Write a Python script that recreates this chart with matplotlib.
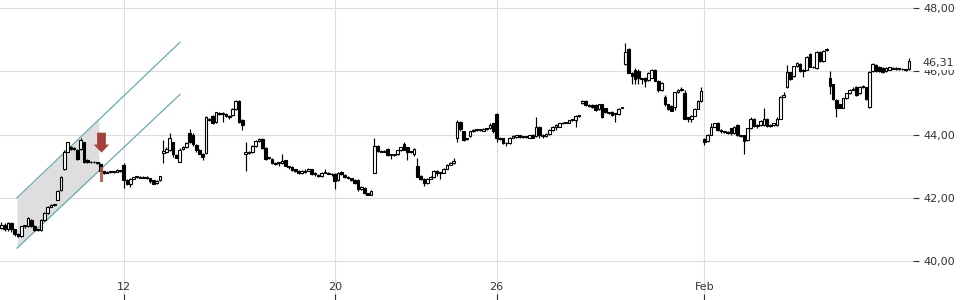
import numpy as np
import matplotlib
matplotlib.use("Agg")
import matplotlib.pyplot as plt
from matplotlib.ticker import FuncFormatter

# ---- data (hourly OHLC candles) ----
opens = [
 41.05,41.15,41.00,41.20,41.00,40.85,40.78,41.10,41.10,41.30,
 41.12,40.98,40.98,41.30,41.52,41.72,41.76,41.94,42.25,42.90,
 43.46,43.60,43.55,43.50,43.55,43.75,43.20,43.12,43.13,43.12,
 43.08,42.85,42.80,42.82,42.82,42.83,42.85,43.05,42.57,42.45,
 42.60,42.65,42.67,42.64,42.66,42.62,42.55,42.48,42.55,43.43,
 43.45,43.50,43.75,43.35,43.14,43.55,43.60,44.06,44.00,43.68,
 43.52,43.40,43.42,44.50,44.60,44.40,44.68,44.65,44.65,44.60,
 44.62,44.80,45.05,44.45,43.40,43.42,43.45,43.65,43.80,43.86,
 43.58,43.25,43.24,43.10,43.10,43.10,43.18,43.00,42.98,42.90,
 42.86,42.78,42.82,42.86,42.90,42.80,42.72,42.68,42.80,42.80,
 42.76,42.76,42.55,42.82,42.72,42.66,42.62,42.57,42.57,42.27,
 42.32,42.15,42.10,42.80,43.65,43.48,43.48,43.55,43.36,43.36,
 43.37,43.50,43.70,43.60,43.45,43.40,43.00,42.70,42.60,42.48,
 42.60,42.65,42.85,42.80,42.80,42.92,43.05,43.10,43.90,44.41,
 44.10,43.85,43.95,44.10,44.14,44.14,44.12,44.16,44.20,44.35,
 44.65,43.90,43.88,43.72,43.72,43.90,43.92,43.97,43.93,43.92,
 43.90,44.00,43.95,44.25,44.00,43.95,44.02,44.15,44.24,44.25,
 44.35,44.37,44.38,44.45,44.45,44.60,45.00,45.05,44.92,44.93,
 44.92,44.80,44.95,44.83,44.70,44.72,44.65,44.65,44.85,46.22,
 46.70,45.95,46.05,46.00,45.78,45.80,45.72,45.80,46.05,45.70,
 45.40,45.20,44.95,44.90,44.86,45.33,45.40,45.30,44.55,44.50,
 44.60,44.82,45.05,43.87,43.80,44.00,44.25,44.38,44.15,44.10,
 44.08,44.20,44.05,44.30,43.98,43.98,43.82,44.20,44.50,44.28,
 44.30,44.30,44.50,44.28,44.30,44.30,44.50,45.20,45.49,45.97,
 45.84,46.16,46.22,46.00,46.05,46.55,46.15,46.10,46.62,46.32,
 46.68,45.78,45.59,45.10,44.95,44.85,45.15,45.30,45.42,45.50,
 45.30,45.50,45.49,44.86,46.00,46.20,46.15,46.10,46.00,46.05,
 46.10,46.08,46.08,46.07,46.05,46.06,
]
highs = [
 41.22,41.20,41.24,41.22,41.02,40.88,41.12,41.14,41.38,41.32,
 41.15,41.00,41.32,41.55,41.75,41.79,41.82,42.24,42.70,43.50,
 43.78,43.65,43.62,43.55,43.90,43.78,43.22,43.15,43.16,43.14,
 43.10,42.86,42.84,42.84,42.85,42.90,42.88,43.10,42.60,42.62,
 42.67,42.70,42.69,42.70,42.68,42.64,42.57,42.55,42.70,43.84,
 43.60,44.05,43.78,43.38,43.58,43.63,43.75,44.19,44.05,43.70,
 43.55,43.42,44.60,44.52,44.62,44.72,44.70,44.70,44.67,44.62,
 44.85,45.10,45.10,44.48,43.75,43.48,43.68,43.83,43.90,43.88,
 43.60,43.30,43.26,43.12,43.13,43.40,43.20,43.02,43.00,42.92,
 42.88,42.88,42.90,42.95,42.92,42.82,42.75,42.82,42.90,42.82,
 42.78,42.78,42.83,42.84,42.74,42.68,42.64,42.58,42.59,42.36,
 42.34,42.16,42.25,43.90,43.67,43.50,43.50,43.57,43.38,43.40,
 43.52,43.62,43.75,43.62,43.48,43.58,43.27,42.72,42.62,42.62,
 42.68,42.88,42.87,42.82,42.94,43.07,43.12,43.27,44.45,44.43,
 44.12,43.90,44.12,44.16,44.18,44.17,44.20,44.22,44.35,44.38,
 44.67,43.92,43.90,43.75,43.92,43.97,43.99,43.99,43.95,43.95,
 43.99,44.02,44.55,44.27,44.02,44.04,44.17,44.26,44.33,44.37,
 44.39,44.40,44.47,44.50,44.63,44.62,45.10,45.08,44.95,44.95,
 44.95,44.98,44.97,44.85,44.72,44.74,44.68,44.83,44.87,46.90,
 46.72,45.97,46.10,46.08,45.80,45.82,45.98,46.08,46.08,45.72,
 45.65,45.25,44.97,44.92,45.35,45.45,45.50,45.42,44.57,44.62,
 44.85,45.08,45.49,43.90,44.02,44.35,44.38,44.40,44.17,44.12,
 44.10,44.22,44.28,44.32,44.00,44.00,44.22,44.54,44.52,44.33,
 44.45,44.85,44.52,44.32,44.37,44.55,45.22,45.35,46.20,45.99,
 46.18,46.30,46.25,46.07,46.48,46.57,46.17,46.65,46.65,46.67,
 46.72,46.00,45.61,45.12,44.97,45.17,45.32,45.45,45.50,45.52,
 45.55,45.58,45.51,46.00,46.25,46.22,46.17,46.12,46.12,46.14,
 46.12,46.12,46.10,46.10,46.08,46.42,
]
lows = [
 41.00,40.95,40.95,40.92,40.80,40.75,40.76,41.06,41.08,41.08,
 40.95,40.96,40.96,41.28,41.50,41.70,41.73,41.92,42.20,42.88,
 43.44,43.50,43.50,43.20,43.50,43.10,43.10,43.10,43.10,43.08,
 42.83,42.76,42.79,42.80,42.80,42.82,42.83,42.30,42.40,42.35,
 42.58,42.62,42.62,42.62,42.60,42.48,42.43,42.45,42.53,43.11,
 43.42,43.48,43.30,43.25,43.12,43.52,43.58,43.72,43.65,43.45,
 43.38,43.20,43.40,44.44,44.32,44.38,44.62,44.41,44.55,44.50,
 44.60,44.78,44.38,44.13,42.85,43.40,43.43,43.62,43.78,43.55,
 43.20,43.24,43.08,43.05,43.02,43.08,43.00,42.90,42.85,42.83,
 42.75,42.76,42.80,42.84,42.73,42.70,42.65,42.66,42.78,42.74,
 42.70,42.28,42.52,42.72,42.62,42.60,42.53,42.44,42.22,42.25,
 42.13,42.08,42.08,42.78,43.45,43.44,43.44,43.33,43.22,43.33,
 43.35,43.48,43.50,43.20,43.43,43.33,42.65,42.55,42.38,42.45,
 42.58,42.63,42.70,42.60,42.78,42.90,43.04,43.08,43.75,44.10,
 43.80,43.83,43.93,44.08,44.12,44.12,44.10,44.14,44.18,44.05,
 43.78,43.82,43.70,43.65,43.70,43.88,43.90,43.90,43.90,43.90,
 43.88,43.88,43.93,43.90,43.90,43.93,44.00,44.12,44.15,44.23,
 44.33,44.35,44.36,44.42,44.25,44.56,44.98,44.90,44.88,44.85,
 44.75,44.78,44.52,44.68,44.65,44.60,44.41,44.63,44.83,46.20,
 45.93,45.60,45.60,45.60,45.60,45.50,45.70,45.78,45.68,45.35,
 45.38,44.90,44.78,44.73,44.78,45.30,45.38,44.48,44.40,44.40,
 44.58,44.80,45.03,43.68,43.78,43.98,44.23,44.12,44.05,44.05,
 44.03,44.00,44.03,43.95,43.93,43.37,43.80,44.18,44.25,44.20,
 44.28,44.28,44.25,44.25,44.28,44.28,44.48,45.18,45.47,45.72,
 45.82,46.14,45.98,45.82,46.03,46.13,46.10,46.08,46.30,46.30,
 46.65,45.27,45.09,44.57,44.83,44.83,45.13,45.28,45.40,45.22,
 45.28,45.48,45.08,44.84,45.98,45.98,45.98,45.96,45.98,46.03,
 46.06,46.05,46.04,46.04,46.02,46.04,
]
closes = [
 41.15,41.00,41.20,41.00,40.85,40.78,41.10,41.10,41.35,41.12,
 40.98,40.98,41.30,41.52,41.72,41.76,41.80,42.22,42.67,43.46,
 43.75,43.55,43.58,43.22,43.84,43.12,43.12,43.13,43.12,43.10,
 42.85,42.78,42.82,42.82,42.83,42.88,42.85,42.57,42.45,42.60,
 42.65,42.67,42.64,42.66,42.62,42.52,42.45,42.52,42.68,43.49,
 43.55,43.90,43.37,43.27,43.52,43.60,43.72,43.75,43.70,43.52,
 43.40,43.30,44.57,44.47,44.38,44.70,44.65,44.66,44.58,44.55,
 44.80,45.05,44.40,44.30,43.46,43.45,43.65,43.80,43.86,43.58,
 43.24,43.27,43.10,43.08,43.10,43.15,43.00,42.98,42.88,42.86,
 42.78,42.86,42.86,42.92,42.75,42.74,42.70,42.80,42.82,42.76,
 42.74,42.52,42.80,42.75,42.66,42.62,42.55,42.46,42.29,42.34,
 42.15,42.10,42.22,43.65,43.48,43.46,43.46,43.35,43.35,43.37,
 43.50,43.60,43.52,43.45,43.46,43.55,42.67,42.60,42.48,42.60,
 42.66,42.85,42.80,42.78,42.92,43.05,43.10,43.15,44.41,44.16,
 43.84,43.88,44.10,44.14,44.16,44.15,44.18,44.20,44.30,44.10,
 43.90,43.85,43.72,43.72,43.90,43.95,43.97,43.92,43.92,43.93,
 43.97,43.90,44.25,44.00,43.95,44.02,44.15,44.24,44.30,44.35,
 44.37,44.38,44.45,44.48,44.60,44.58,45.07,44.92,44.90,44.88,
 44.78,44.95,44.55,44.70,44.68,44.63,44.65,44.80,44.85,46.60,
 45.95,45.85,45.75,45.80,45.75,45.70,45.95,46.05,45.70,45.40,
 45.62,44.95,44.80,44.75,45.33,45.40,45.45,44.50,44.50,44.60,
 44.82,45.05,45.38,43.78,44.00,44.25,44.35,44.15,44.10,44.07,
 44.06,44.05,44.25,43.98,43.95,43.80,44.20,44.50,44.28,44.30,
 44.42,44.50,44.28,44.30,44.35,44.50,45.20,45.25,45.97,45.75,
 46.16,46.27,46.00,46.05,46.45,46.15,46.12,46.62,46.32,46.65,
 46.70,45.52,45.11,44.85,44.85,45.15,45.30,45.42,45.43,45.25,
 45.50,45.52,45.11,45.97,46.22,46.00,46.00,45.98,46.10,46.12,
 46.08,46.10,46.07,46.06,46.04,46.31,
]

tick_positions = [37, 101, 150, 213]
tick_labels = ["12", "20", "26", "Feb"]
y_ticks = [40, 42, 44, 46, 48]
last_price = closes[-1]

# trend channel (bar index, price)
channel_x = [4.7, 54.1]
channel_upper = [42.0, 46.92]
channel_lower = [40.41, 45.27]
channel_fill_end = 29.5
signal_x = 30.3
arrow_top, arrow_tip = 44.06, 43.43
signal_bar = [42.50, 42.97]

# ---- plot ----
o = np.array(opens); h = np.array(highs); l = np.array(lows); c = np.array(closes)
x = np.arange(len(c))
up = c >= o
bottom = np.minimum(o, c)
height = np.maximum(np.abs(c - o), 0.025)

fig = plt.figure(figsize=(9.6, 3.0), dpi=100)
ax = fig.add_axes([0, 0, 913 / 960, 1])

# channel
xs = np.linspace(channel_x[0], channel_fill_end, 50)
ax.fill_between(xs, np.interp(xs, channel_x, channel_lower),
                np.interp(xs, channel_x, channel_upper),
                color="#dedede", lw=0, zorder=1)
ax.plot(channel_x, channel_upper, color="#68aab0", lw=0.9, zorder=1.5)
ax.plot(channel_x, channel_lower, color="#68aab0", lw=0.9, zorder=1.5)

# candles
ax.vlines(x, l, h, color="black", lw=0.85, zorder=2)
ax.bar(x[up], height[up], bottom=bottom[up], width=0.8,
       facecolor="white", edgecolor="black", lw=0.8, zorder=3)
ax.bar(x[~up], height[~up], bottom=bottom[~up], width=0.8,
       facecolor="black", edgecolor="black", lw=0.8, zorder=3)

# signal markers
ax.bar([signal_x], [signal_bar[1] - signal_bar[0]], bottom=[signal_bar[0]],
       width=0.75, color="#c4544c", alpha=0.9, lw=0, zorder=4)
ax.arrow(signal_x, arrow_top, 0, -(arrow_top - arrow_tip) * 0.6, width=2.65,
         head_width=4.7, head_length=(arrow_top - arrow_tip) * 0.4,
         length_includes_head=False, color="#a3413a", lw=0, zorder=5)

ax.set_xlim(-0.45, 276.2)
ax.set_ylim(38.77, 48.253)

ax.set_yticks(y_ticks)
ax.yaxis.tick_right()
ax.yaxis.set_major_formatter(FuncFormatter(lambda v, p: f"{v:.2f}".replace(".", ",")))
ax.tick_params(axis="y", direction="out", length=4, width=0.8, pad=3.5,
               colors="#333333", labelsize=8)
ax.set_xticks(tick_positions, tick_labels)
ax.tick_params(axis="x", direction="in", length=4, width=0.8, pad=-13,
               colors="#333333", labelsize=8)
for s in ax.spines.values():
    s.set_visible(False)
ax.grid(True, color="#dddddd", lw=0.8)
ax.set_axisbelow(True)

ax.text(1.0 + 9 / 913, last_price - 0.06, f"{last_price:.2f}".replace(".", ","),
        transform=ax.get_yaxis_transform(), ha="left", va="center",
        fontsize=8, color="#333333", clip_on=False, zorder=10,
        bbox=dict(facecolor="white", edgecolor="none", pad=1.4))

fig.savefig("out.png", dpi=100)
